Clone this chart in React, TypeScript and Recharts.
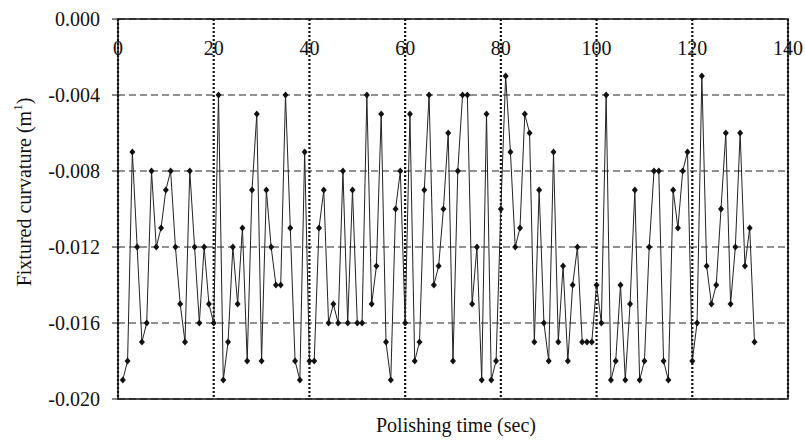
import { LineChart, Line, XAxis, YAxis, CartesianGrid, ReferenceArea } from 'recharts'

// fixtured curvature in thousandths of 1/m, one reading per second (t = 1..133)
const curvatureMilli = [
  -19, -18, -7, -12, -17, -16, -8, -12, -11, -9, -8, -12, -15, -17, -8, -12, -16, -12, -15, -16,
  -4, -19, -17, -12, -15, -11, -18, -9, -5, -18, -9, -12, -14, -14, -4, -11, -18, -19, -7, -18,
  -18, -11, -9, -16, -15, -16, -8, -16, -9, -16, -16, -4, -15, -13, -5, -17, -19, -10, -8, -16,
  -5, -18, -17, -9, -4, -14, -13, -10, -6, -18, -8, -4, -4, -15, -12, -19, -5, -19, -18, -10,
  -3, -7, -12, -11, -5, -6, -17, -9, -16, -18, -7, -17, -13, -18, -14, -12, -17, -17, -17, -14,
  -16, -4, -19, -18, -14, -19, -15, -9, -19, -18, -12, -8, -8, -18, -19, -9, -11, -8, -7, -18,
  -16, -3, -13, -15, -14, -10, -6, -15, -12, -6, -13, -11, -17,
]

const xTicks = [0, 20, 40, 60, 80, 100, 120, 140]
const yTicks = [0, -0.004, -0.008, -0.012, -0.016, -0.02]

const data = curvatureMilli.map((v, i) => ({ time: i + 1, curvature: v / 1000 }))

const FONT = '"Liberation Serif", "DejaVu Serif", serif'
const INK = '#111'

function Diamond(props: any) {
  const { cx, cy, index } = props
  if (cx == null || cy == null) return null
  return (
    <path
      key={`d-${index}`}
      d={`M${cx},${cy - 3.5}L${cx + 3},${cy}L${cx},${cy + 3.5}L${cx - 3},${cy}Z`}
      fill={INK}
    />
  )
}

// the x labels sit just under the top edge, inside the frame
function TopTick(props: any) {
  const { x, y, payload } = props
  return (
    <text x={x} y={y + 36} textAnchor="middle" fontFamily={FONT} fontSize={20} fill={INK}>
      {payload.value}
    </text>
  )
}

export default function App() {
  return (
    <div style={{ position: 'absolute', left: 0, top: 0, background: '#fff' }}>
      <LineChart width={805} height={441} data={data} margin={{ top: 18, right: 17, bottom: 10, left: 48 }}>
        <CartesianGrid xAxisId="top" yAxisId="left" horizontal vertical={false} stroke="#222" strokeDasharray="7 4" />
        <CartesianGrid xAxisId="top" yAxisId="left" horizontal={false} vertical stroke={INK} strokeWidth={2.2} strokeDasharray="2 2" />
        <XAxis
          xAxisId="top"
          orientation="top"
          dataKey="time"
          type="number"
          domain={[0, 140]}
          ticks={xTicks}
          height={1}
          tickLine={false}
          tickSize={0}
          tickMargin={0}
          axisLine={false}
          tick={<TopTick />}
        />
        <XAxis
          xAxisId="bottom"
          orientation="bottom"
          dataKey="time"
          type="number"
          domain={[0, 140]}
          ticks={xTicks}
          height={32}
          tick={false}
          tickLine={false}
          axisLine={false}
          label={{
            content: () => (
              <text x={456} y={432} textAnchor="middle" fontFamily={FONT} fontSize={20} fill={INK}>
                Polishing time (sec)
              </text>
            ),
          }}
        />
        <YAxis
          yAxisId="left"
          type="number"
          domain={[-0.02, 0]}
          ticks={yTicks}
          width={70}
          tickLine={{ stroke: INK, strokeWidth: 1 }}
          tickSize={6}
          tickMargin={12}
          interval={0}
          axisLine={false}
          tickFormatter={(v: number) => v.toFixed(3)}
          tick={{ fontFamily: FONT, fontSize: 20, fill: INK }}
          label={{
            content: () => (
              <text
                x={24}
                y={192}
                transform="rotate(-90 24 192)"
                textAnchor="middle"
                dominantBaseline="central"
                fontFamily={FONT}
                fontSize={20}
                fill={INK}
              >
                Fixtured curvature (m<tspan dy={-7} fontSize={13}>1</tspan><tspan dy={7}>)</tspan>
              </text>
            ),
          }}
        />
        <ReferenceArea
          xAxisId="top"
          yAxisId="left"
          x1={0}
          x2={140}
          y1={-0.02}
          y2={0}
          fill="none"
          fillOpacity={0}
          stroke={INK}
          strokeWidth={1.5}
        />
        <Line
          xAxisId="top"
          yAxisId="left"
          type="linear"
          dataKey="curvature"
          stroke="#222"
          strokeWidth={1}
          dot={<Diamond />}
          activeDot={false}
          isAnimationActive={false}
        />
      </LineChart>
    </div>
  )
}
